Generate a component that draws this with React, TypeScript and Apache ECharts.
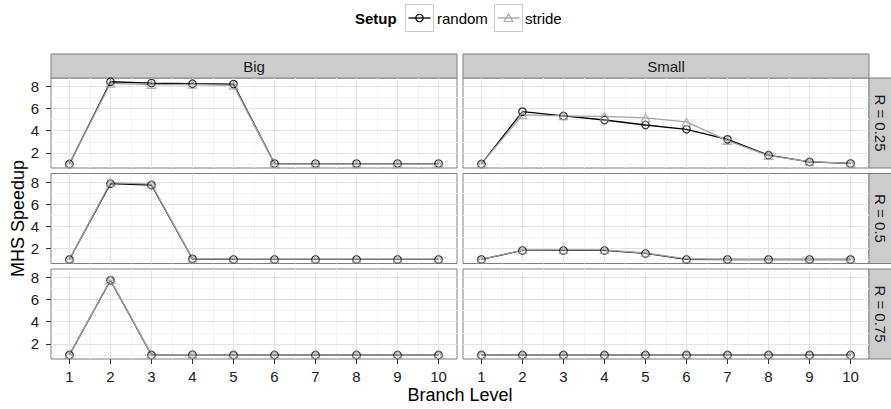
import React, { useEffect, useRef } from "react";
import * as echarts from "echarts";

// ---------- data ----------
const branchLevels = [1, 2, 3, 4, 5, 6, 7, 8, 9, 10];
const columns = ["Big", "Small"];
const rows = ["R = 0.25", "R = 0.5", "R = 0.75"];
const setups = ["random", "stride"];

const bigR025Random = [1.0, 8.43, 8.31, 8.25, 8.22, 1.03, 1.03, 1.03, 1.03, 1.03];
const bigR025Stride = [1.0, 8.28, 8.17, 8.18, 8.1, 1.0, 1.0, 1.0, 1.0, 1.0];
const smallR025Random = [1.0, 5.73, 5.34, 4.97, 4.52, 4.13, 3.22, 1.79, 1.18, 1.04];
const smallR025Stride = [1.0, 5.43, 5.35, 5.3, 5.17, 4.8, 3.1, 1.75, 1.2, 1.05];

const bigR05Random = [1.0, 7.85, 7.73, 1.05, 1.0, 1.0, 1.0, 1.0, 1.0, 1.0];
const bigR05Stride = [1.0, 7.95, 7.8, 1.08, 1.03, 1.03, 1.03, 1.03, 1.03, 1.03];
const smallR05Random = [1.0, 1.81, 1.81, 1.81, 1.54, 1.0, 0.99, 0.99, 0.99, 0.99];
const smallR05Stride = [1.0, 1.85, 1.86, 1.86, 1.58, 1.05, 1.01, 1.01, 1.01, 1.01];

const bigR075Random = [1.0, 7.75, 1.0, 1.02, 1.0, 1.0, 1.0, 1.0, 1.0, 1.0];
const bigR075Stride = [1.0, 7.8, 1.0, 1.03, 1.01, 1.01, 1.01, 1.01, 1.01, 1.01];
const smallR075Random = [1.0, 1.0, 1.0, 1.0, 1.0, 1.0, 1.0, 1.0, 1.0, 1.0];
const smallR075Stride = [1.0, 1.0, 1.0, 1.0, 1.0, 1.0, 1.0, 1.0, 1.0, 1.0];

const xTicks = [1, 2, 3, 4, 5, 6, 7, 8, 9, 10];
const xMinorBreaks = [1.5, 2.5, 3.5, 4.5, 5.5, 6.5, 7.5, 8.5, 9.5];
const yTicks = [2, 4, 6, 8];
const yMinorBreaks = [1, 3, 5, 7];

const xRange = [0.55, 10.45];
const yRange = [0.63, 8.77];

const xTitle = "Branch Level";
const yTitle = "MHS Speedup";
const legendTitle = "Setup";

// panel data: [row][col] -> [random, stride]
const panelData = [
  [[bigR025Random, bigR025Stride], [smallR025Random, smallR025Stride]],
  [[bigR05Random, bigR05Stride], [smallR05Random, smallR05Stride]],
  [[bigR075Random, bigR075Stride], [smallR075Random, smallR075Stride]],
];

// ---------- layout ----------
const FONT = '"Liberation Sans", Arial, Helvetica, sans-serif';
const colPos = [
  { left: 51, width: 406 },
  { left: 463, width: 406 },
];
const rowPos = [
  { top: 78, height: 90 },
  { top: 173.5, height: 90 },
  { top: 269, height: 90 },
];
const STRIP = 24;
const RANDOM_COLOR = "#000000";
const STRIDE_COLOR = "#a3a3a3";
const BORDER = "#7f7f7f";
const STRIP_FILL = "#cccccc";
const MAJOR = "#e3e3e3";
const MINOR = "#f3f3f3";

function buildOption() {
  const grid: any[] = [];
  const xAxis: any[] = [];
  const yAxis: any[] = [];
  const series: any[] = [];
  const graphic: any[] = [];

  rows.forEach((rowName, r) => {
    columns.forEach((colName, c) => {
      const idx = grid.length;
      const isBottom = r === rows.length - 1;
      const isLeft = c === 0;
      grid.push({
        left: colPos[c].left,
        top: rowPos[r].top,
        width: colPos[c].width,
        height: rowPos[r].height,
        show: true,
        backgroundColor: "#ffffff",
        borderColor: BORDER,
        borderWidth: 1,
        containLabel: false,
      });
      xAxis.push({
        gridIndex: idx,
        type: "value",
        min: xRange[0],
        max: xRange[1],
        axisLine: { show: false },
        splitLine: { show: false },
        axisTick: {
          show: isBottom,
          length: 5,
          customValues: xTicks,
          lineStyle: { color: "#333333", width: 1 },
        },
        axisLabel: {
          show: isBottom,
          customValues: xTicks,
          margin: 10,
          fontSize: 15,
          color: "#1a1a1a",
          fontFamily: FONT,
        },
      });
      yAxis.push({
        gridIndex: idx,
        type: "value",
        min: yRange[0],
        max: yRange[1],
        axisLine: { show: false },
        splitLine: { show: false },
        axisTick: {
          show: isLeft,
          length: 5,
          customValues: yTicks,
          lineStyle: { color: "#333333", width: 1 },
        },
        axisLabel: {
          show: isLeft,
          customValues: yTicks,
          margin: 12,
          fontSize: 15,
          color: "#1a1a1a",
          fontFamily: FONT,
        },
      });

      const gridLines: any[] = [];
      xMinorBreaks.forEach((v) => gridLines.push({ xAxis: v, lineStyle: { color: MINOR, width: 1, type: "solid" } }));
      yMinorBreaks.forEach((v) => gridLines.push({ yAxis: v, lineStyle: { color: MINOR, width: 1, type: "solid" } }));
      xTicks.forEach((v) => gridLines.push({ xAxis: v, lineStyle: { color: MAJOR, width: 1, type: "solid" } }));
      yTicks.forEach((v) => gridLines.push({ yAxis: v, lineStyle: { color: MAJOR, width: 1, type: "solid" } }));

      const [randomVals, strideVals] = panelData[r][c];
      const randomPts = branchLevels.map((x, i) => [x, randomVals[i]]);
      const stridePts = branchLevels.map((x, i) => [x, strideVals[i]]);

      series.push({
        name: setups[0],
        type: "line",
        xAxisIndex: idx,
        yAxisIndex: idx,
        data: randomPts,
        showSymbol: false,
        symbol: "none",
        lineStyle: { color: RANDOM_COLOR, width: 1.3 },
        itemStyle: { color: RANDOM_COLOR },
        z: 2,
        silent: true,
        markLine: {
          silent: true,
          symbol: ["none", "none"],
          label: { show: false },
          z: 1,
          animation: false,
          lineStyle: { type: "solid" },
          emphasis: { disabled: true },
          data: gridLines,
        },
      });
      series.push({
        name: setups[1],
        type: "line",
        xAxisIndex: idx,
        yAxisIndex: idx,
        data: stridePts,
        showSymbol: false,
        symbol: "none",
        lineStyle: { color: STRIDE_COLOR, width: 1.3 },
        itemStyle: { color: STRIDE_COLOR },
        z: 2,
        silent: true,
      });
      series.push({
        name: setups[0],
        type: "scatter",
        xAxisIndex: idx,
        yAxisIndex: idx,
        data: randomPts,
        symbol: "circle",
        symbolSize: 7.5,
        itemStyle: { color: "rgba(0,0,0,0)", borderColor: RANDOM_COLOR, borderWidth: 1.2 },
        z: 3,
        silent: true,
      });
      series.push({
        name: setups[1],
        type: "scatter",
        xAxisIndex: idx,
        yAxisIndex: idx,
        data: stridePts,
        symbol: "triangle",
        symbolSize: [8.5, 7.5],
        itemStyle: { color: "rgba(0,0,0,0)", borderColor: STRIDE_COLOR, borderWidth: 1.2 },
        z: 3,
        silent: true,
      });
    });
  });

  // top strips
  columns.forEach((colName, c) => {
    graphic.push({
      type: "rect",
      shape: { x: colPos[c].left, y: rowPos[0].top - STRIP, width: colPos[c].width, height: STRIP },
      style: { fill: STRIP_FILL, stroke: BORDER, lineWidth: 1 },
      silent: true,
    });
    graphic.push({
      type: "text",
      x: colPos[c].left + colPos[c].width / 2,
      y: rowPos[0].top - STRIP / 2,
      style: {
        text: colName,
        fill: "#1a1a1a",
        font: `15px ${FONT}`,
        align: "center",
        verticalAlign: "middle",
      },
      silent: true,
    });
  });
  // right strips
  const rightX = colPos[1].left + colPos[1].width;
  rows.forEach((rowName, r) => {
    graphic.push({
      type: "rect",
      shape: { x: rightX, y: rowPos[r].top, width: STRIP, height: rowPos[r].height },
      style: { fill: STRIP_FILL, stroke: BORDER, lineWidth: 1 },
      silent: true,
    });
    graphic.push({
      type: "text",
      x: rightX + STRIP / 2 - 1,
      y: rowPos[r].top + rowPos[r].height / 2,
      rotation: -Math.PI / 2,
      style: {
        text: rowName,
        fill: "#1a1a1a",
        font: `15px ${FONT}`,
        align: "center",
        verticalAlign: "middle",
      },
      silent: true,
    });
  });

  // axis titles
  const panelsLeft = colPos[0].left;
  const panelsRight = colPos[1].left + colPos[1].width;
  const panelsTop = rowPos[0].top;
  const panelsBottom = rowPos[2].top + rowPos[2].height;
  graphic.push({
    type: "text",
    x: (panelsLeft + panelsRight) / 2,
    y: 395,
    style: {
      text: xTitle,
      fill: "#000000",
      font: `18px ${FONT}`,
      align: "center",
      verticalAlign: "middle",
    },
    silent: true,
  });
  graphic.push({
    type: "text",
    x: 18,
    y: (panelsTop + panelsBottom) / 2,
    rotation: Math.PI / 2,
    style: {
      text: yTitle,
      fill: "#000000",
      font: `18px ${FONT}`,
      align: "center",
      verticalAlign: "middle",
    },
    silent: true,
  });

  // legend
  const legY = 18;
  graphic.push({
    type: "text",
    x: 355,
    y: legY,
    style: { text: legendTitle, fill: "#000000", font: `bold 15px ${FONT}`, align: "left", verticalAlign: "middle" },
    silent: true,
  });
  const keys = [
    { x: 405.5, label: setups[0], textX: 437, color: RANDOM_COLOR, shape: "circle" },
    { x: 494.5, label: setups[1], textX: 525, color: STRIDE_COLOR, shape: "triangle" },
  ];
  keys.forEach((k) => {
    graphic.push({
      type: "rect",
      shape: { x: k.x, y: 4.5, width: 28, height: 27 },
      style: { fill: "#ffffff", stroke: "#cccccc", lineWidth: 1 },
      silent: true,
    });
    const cx = k.x + 14;
    graphic.push({
      type: "line",
      shape: { x1: k.x + 3, y1: legY, x2: k.x + 25, y2: legY },
      style: { stroke: k.color, lineWidth: 1.3 },
      silent: true,
    });
    if (k.shape === "circle") {
      graphic.push({
        type: "circle",
        shape: { cx, cy: legY, r: 3.7 },
        style: { fill: "none", stroke: k.color, lineWidth: 1.2 },
        silent: true,
      });
    } else {
      graphic.push({
        type: "polygon",
        shape: { points: [[cx, legY - 4], [cx + 4.3, legY + 3.5], [cx - 4.3, legY + 3.5]] },
        style: { fill: "none", stroke: k.color, lineWidth: 1.2 },
        silent: true,
      });
    }
    graphic.push({
      type: "text",
      x: k.textX,
      y: legY,
      style: { text: k.label, fill: "#000000", font: `15px ${FONT}`, align: "left", verticalAlign: "middle" },
      silent: true,
    });
  });

  return {
    animation: false,
    backgroundColor: "#ffffff",
    textStyle: { fontFamily: FONT },
    grid,
    xAxis,
    yAxis,
    series,
    graphic,
  };
}

export default function App() {
  const ref = useRef<HTMLDivElement>(null);
  useEffect(() => {
    if (!ref.current) return;
    const chart = echarts.init(ref.current, undefined, { renderer: "svg" });
    chart.setOption(buildOption() as any);
    return () => {
      chart.dispose();
    };
  }, []);
  return (
    <div
      ref={ref}
      style={{ position: "absolute", left: 0, top: 0, width: 891, height: 409 }}
    />
  );
}
